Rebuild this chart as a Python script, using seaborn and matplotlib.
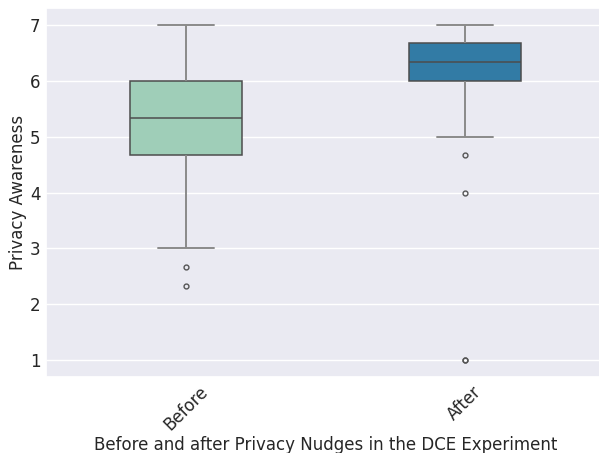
import numpy as np
import pandas as pd
import seaborn as sns
import matplotlib
matplotlib.use("Agg")
import matplotlib.pyplot as plt

sns.set_theme(style="darkgrid")

# Privacy awareness scores (mean of three 7-point items)
before = [2.33, 2.67, 3.0, 3.33, 3.67, 4.0, 4.0, 4.33, 4.33, 4.67,
          4.67, 4.67, 5.0, 5.0, 5.0, 5.0, 5.33, 5.33, 5.33, 5.33,
          5.33, 5.67, 5.67, 5.67, 5.67, 6.0, 6.0, 6.0, 6.0, 6.0,
          6.0, 6.33, 6.33, 6.33, 6.67, 6.67, 6.67, 7.0, 7.0, 7.0, 7.0]
after = [1.0, 1.0, 4.0, 4.67, 5.0, 5.33, 5.67, 5.67, 6.0, 6.0,
         6.0, 6.0, 6.0, 6.0, 6.0, 6.0, 6.33, 6.33, 6.33, 6.33,
         6.33, 6.33, 6.33, 6.33, 6.33, 6.67, 6.67, 6.67, 6.67, 6.67,
         6.67, 7.0, 7.0, 7.0, 7.0, 7.0, 7.0, 7.0, 7.0, 7.0, 7.0]
groups = ["Before", "After"]

df = pd.DataFrame({
    "Phase": [groups[0]] * len(before) + [groups[1]] * len(after),
    "Privacy Awareness": before + after,
})

fig, ax = plt.subplots(figsize=(5.99, 4.53), dpi=100)
sns.boxplot(data=df, x="Phase", y="Privacy Awareness", hue="Phase",
            palette="YlGnBu", width=0.4, fliersize=3.5, legend=False, ax=ax,
            linecolor="#4d4d4d", linewidth=1.1,
            whiskerprops=dict(color="#8a8a8a", linewidth=1.4),
            capprops=dict(color="#8a8a8a", linewidth=1.4),
            flierprops=dict(markeredgecolor="#555555"))
ax.set_xlabel("Before and after Privacy Nudges in the DCE Experiment",
              fontsize=12, labelpad=2)
ax.set_ylabel("Privacy Awareness", fontsize=12, labelpad=2)
ax.tick_params(axis="both", labelsize=12, length=0, pad=4)
plt.xticks(rotation=45)
fig.subplots_adjust(left=0.077, right=1.009, top=0.982, bottom=0.168)
plt.savefig("out.png", dpi=100)
